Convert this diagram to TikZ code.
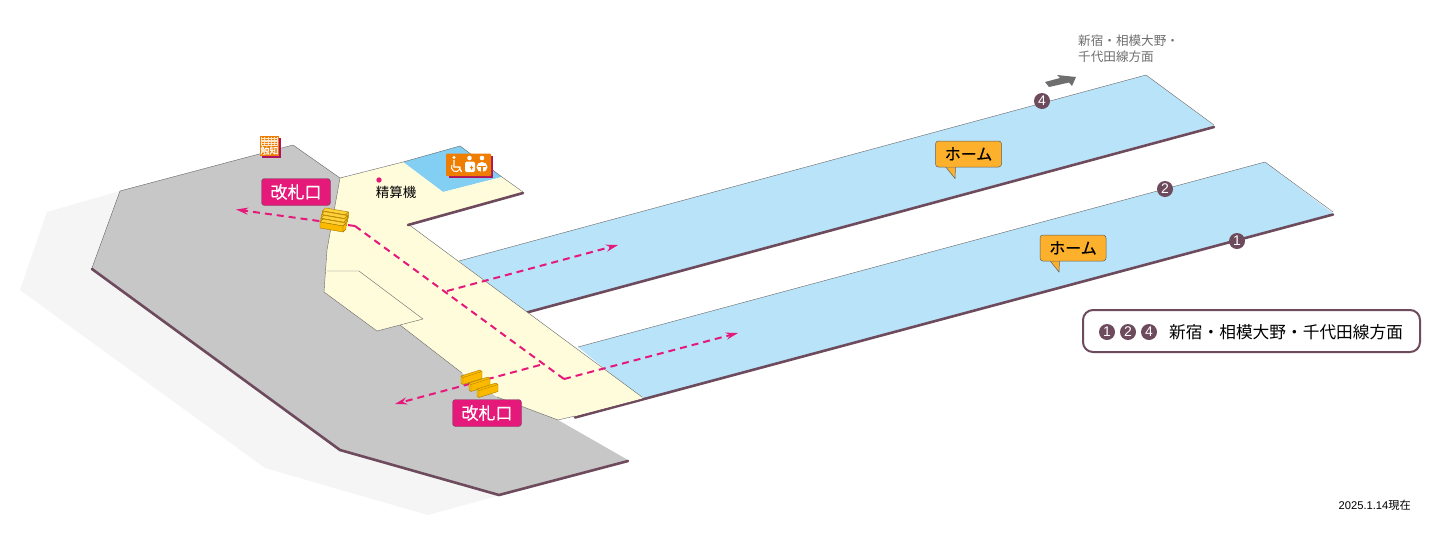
\documentclass[tikz,border=0pt]{standalone}
\usepackage{fontspec}
\setmainfont{Liberation Sans}
\newfontfamily\cjk{Noto Sans CJK JP}
\newfontfamily\cjkm[FakeBold=0.5]{Noto Sans CJK JP}
\usetikzlibrary{arrows.meta,shapes.misc,calc}
\definecolor{grayfloor}{HTML}{C8C7C8}
\definecolor{shadowc}{HTML}{F5F5F5}
\definecolor{cream}{HTML}{FFFCDC}
\definecolor{platform}{HTML}{B9E3F9}
\definecolor{wcblue}{HTML}{83CEF3}
\definecolor{edgec}{HTML}{6D4A5C}
\definecolor{pinkc}{HTML}{E5197A}
\definecolor{orangec}{HTML}{EF7D00}
\definecolor{balloon}{HTML}{FDB02B}
\definecolor{gatec}{HTML}{FBBA00}
\definecolor{gatetop}{HTML}{FFD03A}
\definecolor{gateedge}{HTML}{A67C00}
\definecolor{darkgrayc}{HTML}{6E6E6E}
\definecolor{wine}{HTML}{B0125F}
\tikzset{
 x=1pt,y=-1pt,
 edge/.style={draw=edgec,line width=2.6pt,line cap=round},
 thin edge/.style={draw=gray!80!black,line width=.4pt},
 route/.style={draw=pinkc,line width=2pt,dash pattern=on 7pt off 5pt},
 routetip/.style={route,-{Stealth[length=12pt,width=7pt]}},
 gatelabel/.style={fill=pinkc,draw=edgec,line width=.4pt,rounded corners=3pt,minimum width=69pt,minimum height=27pt,inner sep=0pt,text=white,font=\cjkm\fontsize{17}{17}\selectfont},
 home/.style={fill=balloon,draw=gray!75!black,line width=.5pt,rounded corners=3pt,minimum width=66pt,minimum height=26pt,inner sep=0pt,font=\cjkm\fontsize{16}{16}\selectfont},
 numdot/.style={circle,fill=edgec,text=white,minimum size=16pt,inner sep=0pt,font=\fontsize{14}{14}\selectfont},
 gatebar/.style={fill=gatec,draw=gateedge,line width=.4pt,line join=round},
 gatelid/.style={fill=gatetop,draw=gateedge,line width=.4pt,line join=round},
 ptext/.style={inner sep=0pt,font=\cjk\fontsize{13.5}{15}\selectfont}
}
\begin{document}
\begin{tikzpicture}
\useasboundingbox (0,0) rectangle (1440,550);
\fill[white] (0,0) rectangle (1440,550);
% shadow
\fill[shadowc] (47,212) -- (120,191) -- (92,268) -- (340,449) -- (499,494) -- (628,460) -- (428,515) -- (265,468) -- (20,290) -- cycle;
% grey floor
\fill[grayfloor] (120,191) -- (293,145) -- (340,178) -- (558,420) -- (628,460) -- (499,494) -- (340,449) -- (92,268) -- cycle;
\draw[thin edge] (92,268) -- (120,191) -- (293,145) -- (340,178);
\draw[edge] (92,269) -- (340,450) -- (499,495) -- (628,461);
% platforms
\path[fill=platform] (459,261) -- (1146,75) -- (1214,125.5) -- (525,312.5) -- cycle;
\path[fill=platform] (578,347) -- (1265,162) -- (1333,213.5) -- (642,399) -- cycle;
\draw[thin edge] (459,261) -- (1146,75) -- (1214,125);
\draw[thin edge] (578,347) -- (1265,162) -- (1333,212);
\draw[edge] (525,313) -- (1214,127);
\draw[edge] (575,417.5) -- (1333,214.5);
% toilet area
\fill[wcblue] (403,162) -- (460,146) -- (502,177) -- (443,192) -- cycle;
% concourse
\fill[cream] (340,178) -- (403,162) -- (443,192) -- (502,177) -- (523,192) -- (408,224) -- (642,397) -- (642,398.5) -- (575,416) -- (558,420) -- (497,397) -- (462,373) -- (400,325) -- (377,331) -- (324,292) -- (327,250) -- cycle;
\draw[thin edge] (340,178) -- (403,162) -- (460,146) -- (502,177);
\draw[thin edge] (340,178) -- (327,250) -- (324,292) -- (377,331) -- (423,319) -- (359,271) -- (327,271);
\draw[thin edge] (400,325) -- (462,373);
\draw[thin edge] (502,177) -- (523,192);
\draw[thin edge] (408,224) -- (642,397);
\draw[thin edge] (497,397) -- (558,420) -- (575,416);
\draw[edge] (408,225) -- (523,193);
% routes
\coordinate (w1) at (236,209.5);
\coordinate (w2) at (355,226);
\coordinate (w3) at (564,379);
\coordinate (w4) at (738,333);
\coordinate (b1) at (447,291);
\coordinate (b2) at (618,245);
\coordinate (b3) at (540,365);
\coordinate (b4) at (395,404);
\draw[routetip] (w2) -- (w1);
\draw[route] (w2) -- (w3);
\draw[routetip] (w3) -- (w4);
\draw[routetip] (b1) -- (b2);
\draw[routetip] (b3) -- (b4);
% gates upper
\foreach \i in {3,2,1,0}{
 \fill[gatelid] ({320+\i*0.8},{222-\i*3.7}) -- ++(3,-3) -- ++(23,4) -- ++(-3,3) -- cycle;
 \fill[gatebar] ({320+\i*0.8},{222-\i*3.7}) -- ++(23,4) -- ++(0,6) -- ++(-23,-4) -- cycle;
 \fill[gatebar] ({343+\i*0.8},{226-\i*3.7}) -- ++(3,-3) -- ++(0,6) -- ++(-3,3) -- cycle;
}
% gates lower
\foreach \x/\y in {461/376,469/383,477/389}{
 \fill[gatebar] (\x,\y) -- ++(19,-6) -- ++(2,1.5) -- ++(0,7) -- ++(-19,6) -- ++(-2,-1.5) -- cycle;
 \draw[gateedge,line width=.3pt] (\x,\y) -- ++(2,1.5) -- ++(19,-6) ++(-19,6) -- ++(0,7);
}
% labels
\node[gatelabel] (g1) at (296,192) {改札口};
\node[gatelabel] (g2) at (487,413) {改札口};
\fill[pinkc] (379,180) circle (2.7);
\node[ptext] (seisan) at (396,192.5) {精算機};
% balloons
\fill[balloon,draw=gray!75!black,line width=.5pt] (945,166) -- (955,178.5) -- (955.5,166) -- cycle;
\node[home] (h1) at (968.5,154) {\raisebox{-1pt}{ホーム}};
\fill[balloon] (945.5,165) -- (955,165) -- (954.8,167) -- (946.5,167) -- cycle;
\fill[balloon,draw=gray!75!black,line width=.5pt] (1049,259.5) -- (1059,272) -- (1059.5,259.5) -- cycle;
\node[home] (h2) at (1073,248) {\raisebox{-1pt}{ホーム}};
\fill[balloon] (1049.5,258.5) -- (1059,258.5) -- (1058.8,260.5) -- (1050.5,260.5) -- cycle;
% numbers
\node[numdot] (n4) at (1042,101) {4};
\node[numdot] (n2) at (1165,189) {2};
\node[numdot] (n1) at (1237,241) {1};
% direction
\fill[darkgrayc] (1045,82) -- (1060,78) -- (1057,75) -- (1076,77) -- (1072,86) -- (1069,82.5) -- (1049,87) -- cycle;
\node[inner sep=0pt,text=darkgrayc,align=left,anchor=north west,font=\cjk\fontsize{12.6}{15.5}\selectfont] (dir) at (1078,35) {新宿・相模大野・\\千代田線方面};
% legend
\node[draw=edgec,fill=white,line width=2pt,rounded corners=10pt,minimum width=337pt,minimum height=42pt,inner sep=0pt] (leg) at (1251.5,331) {};
\node[numdot] (l1) at (1107,332) {1};
\node[numdot] (l2) at (1128,332) {2};
\node[numdot] (l4) at (1149,332) {4};
\node[inner sep=0pt,anchor=west,font=\cjk\fontsize{16.7}{17}\selectfont] (legt) at (1169,332) {新宿・相模大野・千代田線方面};
\node[inner sep=0pt,anchor=east,font=\fontsize{11.2}{12}\selectfont] (date) at (1411,505) {2025.1.14{\cjk 現在}};
% facilities icon
\fill[wine] (449,156) rectangle (493,178);
\fill[orangec,rounded corners=1pt] (446,153.5) rectangle (491,176);
\fill[white] (454,157.5) circle (1.7);
\draw[white,line width=1.2pt] (454,160) -- (454,167) -- (459,167) -- (461.5,172);
\draw[white,line width=1pt] (452,165) arc[start angle=210,end angle=-10,radius=4.4];
\fill[white] (469.5,158) circle (2.3);
\fill[white,rounded corners=1.5pt] (465,161.5) rectangle (475,172);
\fill[orangec] (470,167) rectangle (473,168) (471,165.5) rectangle (472,169.5);
\fill[white] (482,158) circle (2.3);
\fill[white] (482,167) ellipse (5.5 and 5);
\fill[orangec] (478,165.5) rectangle (486,166.5);
\fill[orangec] (481,167) rectangle (483,172);
% tactile map icon
\fill[wine] (262,138) rectangle (281,157.5);
\fill[orangec] (260,136) rectangle (279,155.5);
\foreach \i in {0,...,4}{\draw[white!80!orange,line width=.35pt] (261,{138+\i*1.8}) -- (278,{138+\i*1.8});}
\foreach \i in {0,...,5}{\draw[white!80!orange,line width=.35pt] ({261.5+\i*3.1},137) -- ({261.5+\i*3.1},146);}
\node[inner sep=0pt,text=white,font=\cjkm\fontsize{9}{9}\selectfont] (tac) at (269.5,150.5) {触知};
\end{tikzpicture}
\end{document}
